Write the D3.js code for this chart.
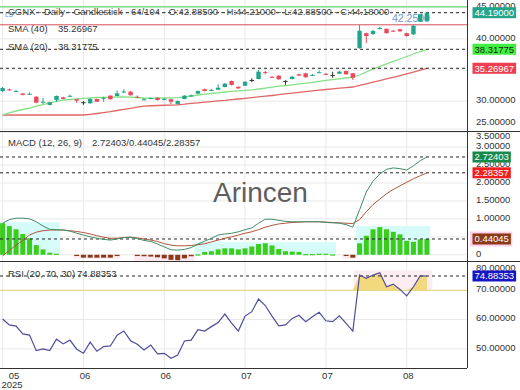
<!DOCTYPE html>
<html>
<head>
<meta charset="utf-8">
<script src="https://cdn.jsdelivr.net/npm/d3@7"></script>
<style>
  body { margin: 0; background: #fff; }
  svg { display: block; font-family: "Liberation Sans", Arial, sans-serif; }
</style>
</head>
<body>
<script>
const W = 520, H = 390;
const plotRight = 467;
const priceTop = 0, priceBottom = 131;
const macdTop = 131, macdBottom = 261;
const rsiTop = 261, rsiBottom = 368;

// daily candles
const opens = [31.62,31.89,31.60,31.22,31.10,30.70,29.75,29.38,30.18,30.60,30.78,30.30,29.82,29.65,30.34,30.45,30.87,30.82,31.52,31.52,30.68,30.25,
  30.45,30.55,30.30,30.30,29.50,30.34,30.85,31.20,31.90,31.76,31.83,32.26,33.23,32.30,32.47,33.40,33.55,34.65,33.90,34.08,33.24,33.55,34.30,
  34.46,34.15,34.60,34.38,34.20,34.40,34.83,34.46,38.50,40.90,40.77,41.70,41.60,41.30,41.53,40.90,40.72,42.75,42.885];
const highs = [32.26,32.00,31.75,31.30,31.40,30.80,30.50,29.90,30.90,30.70,31.05,30.35,30.00,30.50,30.40,30.70,30.95,31.70,31.90,31.60,30.90,30.45,
  30.60,30.60,30.50,30.35,30.10,30.95,31.05,31.70,32.00,31.95,32.70,32.90,33.30,32.35,33.20,33.65,35.00,34.85,34.00,34.15,33.35,34.00,34.40,
  34.55,34.35,34.90,34.50,34.72,34.85,34.90,34.50,42.20,41.00,41.45,41.95,41.65,41.40,41.60,40.95,42.20,44.00,44.21];
const lows = [31.46,31.65,31.55,30.90,31.00,29.65,29.55,29.30,29.85,30.30,30.70,29.70,29.40,29.55,29.85,29.90,30.25,30.80,31.30,30.90,30.50,30.10,
  30.30,30.10,30.20,29.50,29.45,30.30,30.75,31.15,31.55,31.60,31.80,32.20,32.50,31.95,32.40,33.05,33.50,34.30,33.75,33.45,32.60,33.50,34.00,
  33.75,34.05,34.50,34.20,33.75,34.35,34.25,33.38,38.40,39.30,40.60,41.50,40.85,41.15,41.15,40.35,40.60,42.70,42.885];
const closes = [32.10,31.73,31.64,31.00,31.18,29.75,29.90,29.80,30.82,30.34,30.85,30.07,29.82,30.34,29.90,30.52,30.30,31.25,31.55,30.94,30.65,30.30,
  30.50,30.18,30.33,29.90,30.02,30.87,30.90,31.62,31.62,31.80,32.15,32.80,32.59,32.05,33.10,33.40,34.72,34.60,33.82,33.50,33.24,33.92,34.10,
  33.82,34.20,34.64,34.33,34.20,34.72,34.30,33.76,41.30,40.45,41.25,41.75,40.90,41.25,41.20,40.45,42.10,43.93,44.18];

const sma20 = [27.77,28.09,28.41,28.65,28.89,29.21,29.45,29.70,29.94,30.15,30.26,30.37,30.45,30.53,30.58,30.61,30.63,30.66,30.66,30.63,30.58,30.50,
  30.45,30.47,30.50,30.53,30.56,30.66,30.82,30.98,31.11,31.22,31.33,31.46,31.57,31.65,31.73,31.81,31.94,32.10,32.26,32.39,32.50,32.62,32.75,
  32.87,33.02,33.16,33.31,33.45,33.58,33.71,33.84,34.19,34.67,35.12,35.55,35.96,36.36,36.76,37.16,37.56,37.96,38.31775];
const sma40 = [27.77,27.77,27.77,27.77,27.77,27.77,27.77,27.77,27.77,27.77,27.77,27.77,27.77,27.88,28.01,28.15,28.30,28.49,28.67,28.84,29.02,29.18,
  29.25,29.29,29.33,29.36,29.41,29.50,29.62,29.73,29.82,29.92,30.02,30.11,30.23,30.34,30.45,30.56,30.67,30.79,30.90,31.03,31.16,31.28,31.41,
  31.52,31.64,31.75,31.86,31.97,32.07,32.17,32.26,32.52,32.78,33.03,33.29,33.55,33.82,34.09,34.37,34.66,34.96,35.26967];

const macdLine = [0.88,0.98,1.02,1.02,1.00,0.92,0.80,0.71,0.70,0.69,0.66,0.60,0.55,0.50,0.46,0.43,0.41,0.44,0.48,0.49,0.45,0.40,
  0.37,0.30,0.22,0.14,0.13,0.15,0.20,0.30,0.38,0.46,0.55,0.58,0.60,0.64,0.70,0.75,0.88,0.99,0.99,0.96,0.93,0.92,0.92,
  0.92,0.92,0.92,0.90,0.89,0.88,0.84,0.77,1.25,1.75,2.05,2.25,2.38,2.42,2.40,2.36,2.48,2.62,2.72403];
const signalLine = [-0.03,0.12,0.27,0.40,0.55,0.63,0.67,0.69,0.69,0.69,0.67,0.65,0.62,0.58,0.53,0.49,0.46,0.46,0.48,0.49,0.47,0.44,
  0.41,0.37,0.31,0.27,0.25,0.25,0.26,0.28,0.31,0.36,0.41,0.46,0.50,0.55,0.60,0.64,0.70,0.77,0.82,0.86,0.88,0.90,0.91,
  0.92,0.92,0.92,0.91,0.90,0.89,0.88,0.87,0.98,1.20,1.40,1.55,1.70,1.82,1.92,2.02,2.12,2.20,2.28357];
const histogram = [0.88,0.80,0.71,0.58,0.46,0.27,0.15,0.06,0.03,0,0,-0.02,-0.08,-0.08,-0.08,-0.08,-0.08,-0.02,0,0,-0.02,-0.04,
  -0.05,-0.07,-0.10,-0.14,-0.15,-0.10,-0.04,0.01,0.08,0.10,0.15,0.18,0.18,0.15,0.18,0.23,0.30,0.32,0.26,0.16,0.10,0.09,0.08,
  0.02,0.02,0.03,0.03,0.01,0,-0.01,-0.08,0.32,0.53,0.71,0.77,0.71,0.64,0.57,0.39,0.36,0.43,0.44045];

const rsi = [60.2,58.2,57.8,55.1,54.7,49.4,50.0,49.4,53.3,51.7,53.0,49.9,48.5,52.3,49.2,50.8,51.0,54.7,56.1,52.8,51.6,49.6,
  51.3,48.3,48.5,46.8,47.9,52.7,53.0,56.6,56.1,57.6,59.0,61.9,58.8,56.1,61.2,62.7,67.0,64.8,61.2,57.9,58.2,60.4,61.5,
  59.3,61.0,62.5,59.6,59.3,61.3,58.7,56.1,75.2,74.1,75.2,76.0,71.2,72.1,70.3,68.1,71.2,74.9,74.88353];

const xTickIndex = [0, 12, 24, 36, 48, 60];
const xTickLabels = ["05", "06", "06", "07", "07", "08"];
const priceTicks = [25, 30, 35, 40, 45];
const macdTicks = [0, 0.5, 1, 1.5, 2, 2.5, 3, 3.5];
const rsiTicks = [50, 60, 70, 80];

const x = d3.scaleLinear().domain([-0.386, 68.95]).range([0, plotRight]);
const yP = d3.scaleLinear().domain([25.2, 46.23]).range([priceBottom, priceTop]);
const yM = d3.scaleLinear().domain([-0.173, 3.448]).range([macdBottom, macdTop]);
const yR = d3.scaleLinear().domain([43.48, 80]).range([rsiBottom, rsiTop]);
const idx = d3.range(closes.length);

const svg = d3.select("body").append("svg").attr("width", W).attr("height", H);
svg.append("rect").attr("width", W).attr("height", H).attr("fill", "#fff");

const grid = svg.append("g").attr("stroke", "#e8e8e8").attr("stroke-width", 1);
xTickIndex.forEach(i => {
  grid.append("line").attr("x1", x(i)).attr("x2", x(i)).attr("y1", 0).attr("y2", rsiBottom);
});
priceTicks.forEach(v => grid.append("line").attr("x1", 0).attr("x2", plotRight).attr("y1", yP(v)).attr("y2", yP(v)));
macdTicks.forEach(v => grid.append("line").attr("x1", 0).attr("x2", plotRight).attr("y1", yM(v)).attr("y2", yM(v)));
[50, 60].forEach(v => grid.append("line").attr("x1", 0).attr("x2", plotRight).attr("y1", yR(v)).attr("y2", yR(v)));

function clipRect(id, y0, y1) {
  svg.append("clipPath").attr("id", id).append("rect").attr("x", 0).attr("y", y0).attr("width", plotRight).attr("height", y1 - y0);
}
clipRect("cp", priceTop, priceBottom);
clipRect("cm", macdTop, macdBottom);
clipRect("cr", rsiTop, rsiBottom);

function dashed(g, y) {
  g.append("line").attr("x1", 0).attr("x2", plotRight).attr("y1", y).attr("y2", y)
    .attr("stroke", "#222").attr("stroke-dasharray", "3,3").attr("stroke-width", 1);
}

// ---- price panel
const pg = svg.append("g").attr("clip-path", "url(#cp)");
pg.append("line").attr("x1", 0).attr("x2", plotRight).attr("y1", yP(45.15)).attr("y2", yP(45.15)).attr("stroke", "#86e086").attr("stroke-width", 1.5);
pg.append("line").attr("x1", 0).attr("x2", plotRight).attr("y1", yP(42.25)).attr("y2", yP(42.25)).attr("stroke", "#d9505c").attr("stroke-width", 1);
pg.append("text").attr("x", 392).attr("y", yP(42.25) - 3).attr("font-size", 10.5).attr("fill", "#7393d8").text("42.2500");

const smaLine = arr => d3.line().x((d, i) => x(i)).y(d => yP(d))(arr);
pg.append("path").attr("d", smaLine(sma40)).attr("fill", "none").attr("stroke", "#e06666").attr("stroke-width", 1.3);
pg.append("path").attr("d", smaLine(sma20)).attr("fill", "none").attr("stroke", "#84e084").attr("stroke-width", 1.3);

[44.19, 38.31775, 35.26967].forEach(v => dashed(pg, yP(v)));

const candleColor = i => closes[i] > opens[i] ? "#23a58c" : closes[i] < opens[i] ? "#e84a5c" : "#333";
pg.selectAll(".wick").data(idx).enter().append("line")
  .attr("x1", i => x(i)).attr("x2", i => x(i))
  .attr("y1", i => yP(highs[i])).attr("y2", i => yP(lows[i]))
  .attr("stroke", candleColor).attr("stroke-width", 1);
pg.selectAll(".body").data(idx).enter().append("rect")
  .attr("x", i => x(i) - 2.2).attr("width", 4.4)
  .attr("y", i => yP(Math.max(opens[i], closes[i])))
  .attr("height", i => Math.max(1, Math.abs(yP(opens[i]) - yP(closes[i]))))
  .attr("fill", candleColor);

// ---- MACD panel
const mg = svg.append("g").attr("clip-path", "url(#cm)");
// pale blocks behind each run of same-sign bars
let runs = [], cur = null;
histogram.forEach((v, i) => {
  const s = v > 0 ? 1 : v < 0 ? -1 : 0;
  if (cur && cur.s === s && s !== 0) { cur.end = i; cur.ext = Math.max(cur.ext, Math.abs(v)); }
  else { cur = s ? { s, start: i, end: i, ext: Math.abs(v) } : null; if (cur) runs.push(cur); }
});
const step = x(1) - x(0);
runs.forEach(r => {
  const top = r.s > 0 ? yM(r.ext + 0.03) : yM(0);
  const bot = r.s > 0 ? yM(0) : yM(-r.ext - 0.03);
  mg.append("rect").attr("x", x(r.start) - step / 2).attr("width", (r.end - r.start + 1) * step)
    .attr("y", top).attr("height", bot - top)
    .attr("fill", r.s > 0 ? "#d6fcfa" : "#fde8ef");
});
mg.selectAll(".bar").data(idx.filter(i => histogram[i] !== 0)).enter().append("rect")
  .attr("x", i => x(i) - 2.5).attr("width", 5)
  .attr("y", i => histogram[i] > 0 ? yM(histogram[i]) : yM(0))
  .attr("height", i => Math.max(1.2, Math.abs(yM(histogram[i]) - yM(0))))
  .attr("fill", i => histogram[i] > 0 ? "#3ccc1c" : "#8a3a17");

mg.append("text").attr("x", 213).attr("y", 202).attr("font-size", 28).attr("fill", "#5e5e5e").text("Arincen");

[2.72403, 2.28357, 0.44045].forEach(v => dashed(mg, yM(v)));
const mLine = arr => d3.line().x((d, i) => x(i)).y(d => yM(d))(arr);
mg.append("path").attr("d", mLine(signalLine)).attr("fill", "none").attr("stroke", "#b0553c").attr("stroke-width", 1);
mg.append("path").attr("d", mLine(macdLine)).attr("fill", "none").attr("stroke", "#3f8f68").attr("stroke-width", 1);

// ---- RSI panel
const rg = svg.append("g").attr("clip-path", "url(#cr)");
rg.append("rect").attr("x", x(52.1)).attr("width", x(63.8) - x(52.1))
  .attr("y", yR(76.8)).attr("height", yR(70) - yR(76.8)).attr("fill", "#fcedf3");
rg.append("path")
  .attr("d", d3.area().x((d, i) => x(i)).y0(yR(70)).y1(d => yR(Math.max(70, d)))(rsi))
  .attr("fill", "#f3d97e");
rg.append("line").attr("x1", 0).attr("x2", plotRight).attr("y1", yR(70)).attr("y2", yR(70)).attr("stroke", "#e6d88a").attr("stroke-width", 1.2);
dashed(rg, yR(74.88353));
rg.append("path").attr("d", d3.line().x((d, i) => x(i)).y(d => yR(d))(rsi))
  .attr("fill", "none").attr("stroke", "#4d4d99").attr("stroke-width", 1.2);

// ---- frame
const frame = svg.append("g").attr("stroke", "#333").attr("stroke-width", 1);
frame.append("line").attr("x1", plotRight + 0.5).attr("x2", plotRight + 0.5).attr("y1", 0).attr("y2", rsiBottom);
frame.append("line").attr("x1", 0).attr("x2", plotRight).attr("y1", rsiBottom + 0.5).attr("y2", rsiBottom + 0.5);
frame.append("line").attr("x1", 0).attr("x2", W).attr("y1", macdTop + 0.5).attr("y2", macdTop + 0.5);
frame.append("line").attr("x1", 0).attr("x2", W).attr("y1", rsiTop + 0.5).attr("y2", rsiTop + 0.5);

// ---- texts
const fs = 9.5;
const txt = (x0, y0, s, fill) => svg.append("text").attr("x", x0).attr("y", y0).attr("dy", "0.35em")
  .attr("font-size", fs).attr("fill", fill || "#333").text(s);
txt(8, 12, "CGNX - Daily - Candlestick - 64/104 - O:42.88500 - H:44.21000 - L:42.88500 - C:44.18000", "#444");
svg.append("text").attr("x", 5).attr("y", 17).attr("font-size", 7).attr("fill", "#6f8fd6").text("L5");
txt(8, 29, "SMA (40)"); txt(58, 29, "35.26967");
txt(8, 47, "SMA (20)"); txt(58, 47, "38.31775");
txt(8, 143, "MACD (12, 26, 9)"); txt(92, 143, "2.72403/0.44045/2.28357");
txt(8, 274, "RSI (20, 70, 30)"); txt(77, 274, "74.88353");

// right axis tick labels
const fmt = v => v === 0 ? "0" : v.toFixed(5);
const axisLabel = (y, v) => svg.append("text").attr("x", 476).attr("y", y).attr("dy", "0.35em")
  .attr("font-size", fs).attr("fill", "#333").text(fmt(v));
priceTicks.forEach(v => axisLabel(Math.min(yP(v) - 1.5, priceBottom - 9), v));
macdTicks.forEach(v => axisLabel(Math.max(yM(v) - 1.5, macdTop + 5), v));
rsiTicks.forEach(v => axisLabel(Math.max(yR(v) - 1.5, rsiTop + 7), v));

function tag(y, v, bg, fg, border) {
  const g = svg.append("g");
  const t = g.append("text").attr("x", 474.5).attr("y", y).attr("dy", "0.35em")
    .attr("font-size", fs).attr("fill", fg).text(v.toFixed(5));
  const w = t.node().getComputedTextLength() + 4;
  if (border) g.insert("rect", "text").attr("x", 470).attr("y", y - 7.5).attr("width", w + 4).attr("height", 15).attr("fill", border);
  g.insert("rect", "text").attr("x", 472.5).attr("y", y - 5.5).attr("width", w).attr("height", 11).attr("fill", bg);
}
tag(yP(44.19), 44.19, "#23a58c", "#fff");
tag(yP(38.31775), 38.31775, "#40f040", "#222");
tag(yP(35.26967), 35.26967, "#ee3f50", "#fff");
tag(yM(2.72403), 2.72403, "#17894a", "#fff");
tag(yM(2.28357), 2.28357, "#ee2020", "#fff");
tag(yM(0.44045), 0.44045, "#8a3a17", "#fff", "#ffd0ea");
tag(yR(74.88353), 74.88353, "#1616c4", "#fff");

// x axis labels
xTickIndex.forEach((i, k) => {
  svg.append("text").attr("x", k === 0 ? 14 : x(i) + 1.5).attr("y", 376).attr("dy", "0.35em")
    .attr("text-anchor", "middle").attr("font-size", fs).attr("fill", "#333").text(xTickLabels[k]);
});
svg.append("text").attr("x", 12).attr("y", 385).attr("dy", "0.35em").attr("text-anchor", "middle")
  .attr("font-size", fs).attr("fill", "#333").text("2025");
</script>
</body>
</html>
